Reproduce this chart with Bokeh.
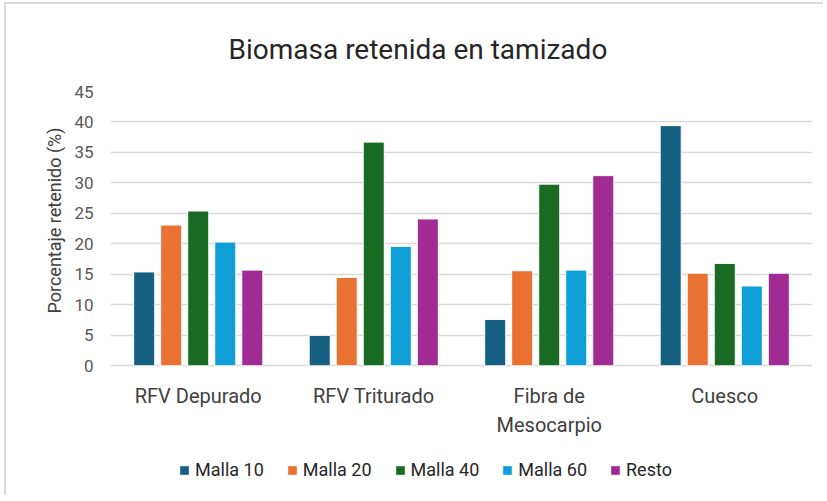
from bokeh.plotting import figure
from bokeh.models import FactorRange, Legend, LegendItem, Title, ColumnDataSource, Range1d
from bokeh.core.properties import value
from bokeh.transform import dodge
from bokeh.embed import file_html
from bokeh.resources import INLINE

categories = ["RFV Depurado", "RFV Triturado", "Fibra de\nMesocarpio", "Cuesco"]
series_names = ["Malla 10", "Malla 20", "Malla 40", "Malla 60", "Resto"]
malla10 = [15.4, 5.0, 7.6, 39.4]
malla20 = [23.1, 14.5, 15.6, 15.2]
malla40 = [25.4, 36.7, 29.8, 16.8]
malla60 = [20.3, 19.6, 15.7, 13.1]
resto = [15.7, 24.1, 31.2, 15.2]
colors = ["#156082", "#E97132", "#196B24", "#0F9ED5", "#A02B93"]
y_ticks = [0, 5, 10, 15, 20, 25, 30, 35, 40, 45]

FONT = "Roboto"
Y_BOTTOM = -21.27      # frame extends below 0 to hold category labels and legend
LABEL_Y = -2.95        # top of category labels (data units)

source = ColumnDataSource(dict(cat=categories, s0=malla10, s1=malla20, s2=malla40, s3=malla60, s4=resto))

p = figure(x_range=FactorRange(*categories), y_range=Range1d(Y_BOTTOM, 45), width=819, height=493,
           output_backend="svg", toolbar_location=None,
           min_border_left=104, min_border_right=13, min_border_top=86, min_border_bottom=2)

p.title = Title(text="Biomasa retenida en tamizado", align="left", text_font=FONT,
                text_font_size="28px", text_font_style="normal", text_color="#262626",
                standoff=52, offset=118)

step = 0.154
renderers = []
for i, col in enumerate(["s0", "s1", "s2", "s3", "s4"]):
    r = p.vbar(x=dodge("cat", (i - 2) * step, range=p.x_range), top=col, width=0.12,
               source=source, fill_color=colors[i], line_color="white", line_width=1)
    renderers.append(r)

# category labels
p.text(x=categories, y=[LABEL_Y] * len(categories), text=categories,
       text_align="center", text_baseline="top", text_font=value(FONT),
       text_font_size="20px", text_color="#404040", text_line_height=1.2)

p.outline_line_color = None
p.xgrid.grid_line_color = None
p.ygrid.grid_line_color = "#d9d9d9"
p.ygrid.grid_line_width = 1.5
p.ygrid.ticker = y_ticks
p.xaxis.visible = False

p.yaxis.ticker = y_ticks
p.yaxis.axis_line_color = None
p.yaxis.major_tick_line_color = None
p.yaxis.major_tick_out = 0
p.yaxis.major_tick_in = 0
p.yaxis.minor_tick_line_color = None
p.yaxis.major_label_text_font = FONT
p.yaxis.major_label_text_font_size = "17px"
p.yaxis.major_label_text_color = "#595959"
p.yaxis.major_label_standoff = 17

ytitle = Title(text="Porcentaje retenido (%)", align="left", text_font=FONT,
               text_font_size="18px", text_font_style="normal", text_color="#404040",
               standoff=13, offset=182)
p.add_layout(ytitle, "left")

items = [LegendItem(label=n, renderers=[r]) for n, r in zip(series_names, renderers)]
legend = Legend(items=items, orientation="horizontal", location=(68, 15), padding=0, margin=0,
                spacing=22, glyph_width=12, glyph_height=12, label_standoff=5,
                label_text_font=FONT, label_text_font_size="18px", label_text_color="#262626",
                border_line_color=None, background_fill_alpha=0)
p.add_layout(legend, "center")

p.styles = {"margin-left": "4px", "margin-top": "2px",
            "border-left": "2px solid #d9d9d9", "border-top": "2px solid #d9d9d9"}

open("out.html", "w").write(file_html(p, INLINE))
